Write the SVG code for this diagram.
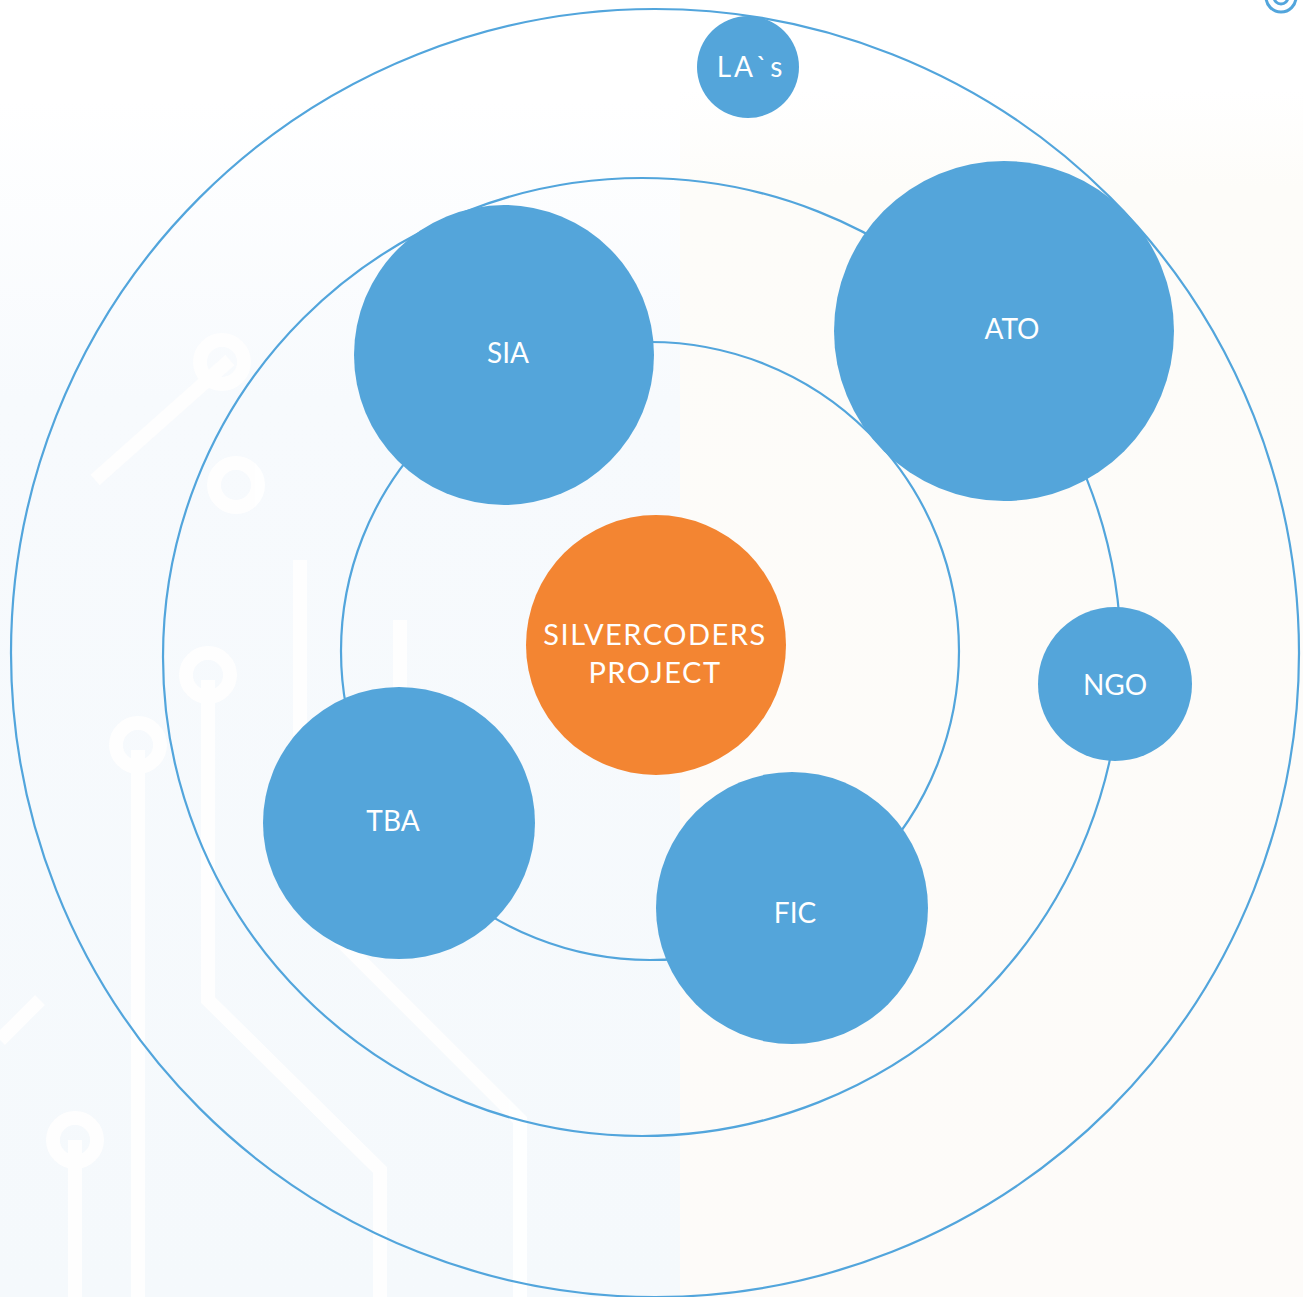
<svg xmlns="http://www.w3.org/2000/svg" width="1303" height="1297" viewBox="0 0 1303 1297">
<style>
.ring{fill:none;stroke:#52a5dc;stroke-width:2.2}
.node{fill:#54a5da}
.core{fill:#f38532}
.lbl{font-family:Lato,"Noto Sans","Liberation Sans",sans-serif;font-size:28px;fill:#ffffff;text-anchor:middle}
.bgtrace{fill:none;stroke:#ffffff;stroke-width:14;stroke-linejoin:miter}
</style>
<defs>
<linearGradient id="tintL" x1="0" y1="0" x2="0" y2="1">
<stop offset="0" stop-color="#f7fafd" stop-opacity="0"/>
<stop offset="0.25" stop-color="#f7fafd" stop-opacity="1"/>
<stop offset="1" stop-color="#f5f9fc" stop-opacity="1"/>
</linearGradient>
<linearGradient id="tintR" x1="0" y1="0" x2="0" y2="1">
<stop offset="0" stop-color="#fdfcf9" stop-opacity="0"/>
<stop offset="0.08" stop-color="#fdfcf9" stop-opacity="1"/>
<stop offset="1" stop-color="#fdfbf9" stop-opacity="1"/>
</linearGradient>
</defs>
<rect x="0" y="0" width="1303" height="1297" fill="#ffffff"/>
<g id="background">
<rect x="0" y="100" width="680" height="1197" fill="url(#tintL)"/>
<rect x="680" y="90" width="623" height="1207" fill="url(#tintR)"/>
<g opacity="0.9">
<path class="bgtrace" d="M75 1297 L75 1140"/>
<circle cx="75" cy="1140" r="22" fill="none" stroke="#ffffff" stroke-width="14"/>
<path class="bgtrace" d="M138 1297 L138 750"/>
<circle cx="138" cy="745" r="22" fill="none" stroke="#ffffff" stroke-width="14"/>
<path class="bgtrace" d="M208 680 L208 1000 L380 1170 L380 1297"/>
<circle cx="208" cy="675" r="22" fill="none" stroke="#ffffff" stroke-width="14"/>
<path class="bgtrace" d="M300 560 L300 900 L520 1120 L520 1297"/>
<path class="bgtrace" d="M400 620 L400 820"/>
<path class="bgtrace" d="M95 480 L230 360"/>
<circle cx="236" cy="485" r="22" fill="none" stroke="#ffffff" stroke-width="14"/>
<circle cx="222" cy="362" r="22" fill="none" stroke="#ffffff" stroke-width="14"/>
<path class="bgtrace" d="M0 1040 L40 1000"/>
</g>
</g>
<g id="connectors">
<circle class="ring" cx="655" cy="653" r="644"/>
<circle class="ring" cx="642" cy="657" r="479"/>
<circle class="ring" cx="650" cy="651" r="309"/>
</g>
<g id="node-las"><circle class="node" cx="748" cy="67" r="51"/><text class="lbl" x="751" y="77" style="letter-spacing:3px">LA`s</text></g>
<g id="node-sia"><circle class="node" cx="504" cy="355" r="150"/><text class="lbl" x="508" y="363">SIA</text></g>
<g id="node-ato"><circle class="node" cx="1004" cy="331" r="170"/><text class="lbl" x="1012" y="339">ATO</text></g>
<g id="node-ngo"><circle class="node" cx="1115" cy="684" r="77"/><text class="lbl" x="1115" y="695">NGO</text></g>
<g id="node-tba"><circle class="node" cx="399" cy="823" r="136"/><text class="lbl" x="393" y="831">TBA</text></g>
<g id="node-fic"><circle class="node" cx="792" cy="908" r="136"/><text class="lbl" x="795" y="923">FIC</text></g>
<g id="node-core"><circle class="core" cx="656" cy="645" r="130"/>
<text class="lbl" x="655" y="645" style="font-size:29px;letter-spacing:1.5px">SILVERCODERS</text>
<text class="lbl" x="655" y="683" style="font-size:29px;letter-spacing:1.5px">PROJECT</text></g>
<g id="corner-icon">
<circle cx="1281" cy="-3" r="15" fill="none" stroke="#52a5dc" stroke-width="3"/>
<circle cx="1281" cy="-3" r="7" fill="none" stroke="#52a5dc" stroke-width="3"/>
</g>
</svg>
